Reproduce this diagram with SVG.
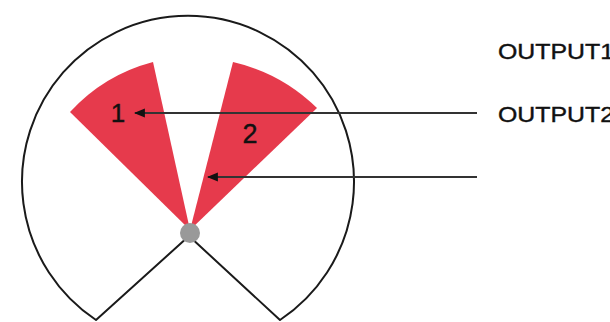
<svg xmlns="http://www.w3.org/2000/svg" width="610" height="322" viewBox="0 0 610 322">
<defs>
<style>
.outline{fill:none;stroke:#1a1a1a;stroke-width:2;stroke-linejoin:round}
.wedge{fill:#e63a4c;stroke:none}
.conn{stroke:#333;stroke-width:1.8;fill:none}
.lbl{font-family:"Liberation Sans",Arial,sans-serif;fill:#111;stroke:#111;stroke-width:0.4}
</style>
<marker id="ah" viewBox="0 0 10 10" refX="9" refY="5" markerWidth="11" markerHeight="11" markerUnits="userSpaceOnUse" orient="auto">
<path d="M0,1 L10,5 L0,9 Z" fill="#111"/>
</marker>
</defs>
<rect width="610" height="322" fill="#fff"/>
<g id="housing">
<path class="outline" d="M 96 320 A 166 166 0 1 1 280 320 L 189 236 Z"/>
</g>
<g id="wedge1">
<path class="wedge" d="M 190 230 L 70 112 A 172 172 0 0 1 153 62 Z"/>
<text class="lbl" x="118" y="122" font-size="26" text-anchor="middle">1</text>
</g>
<g id="wedge2">
<path class="wedge" d="M 190 230 L 233 62 A 176 176 0 0 1 317 108 Z"/>
<text class="lbl" x="250" y="143" font-size="27" text-anchor="middle">2</text>
</g>
<g id="pivot">
<circle cx="190" cy="233" r="10" fill="#999"/>
</g>
<g id="connectors">
<line class="conn" x1="477" y1="113" x2="135" y2="113" marker-end="url(#ah)"/>
<line class="conn" x1="477" y1="177" x2="208" y2="177" marker-end="url(#ah)"/>
</g>
<g id="output1">
<text class="lbl" x="498" y="59" font-size="22" textLength="116" lengthAdjust="spacingAndGlyphs">OUTPUT1</text>
</g>
<g id="output2">
<text class="lbl" x="498" y="122" font-size="22" textLength="116" lengthAdjust="spacingAndGlyphs">OUTPUT2</text>
</g>
</svg>
